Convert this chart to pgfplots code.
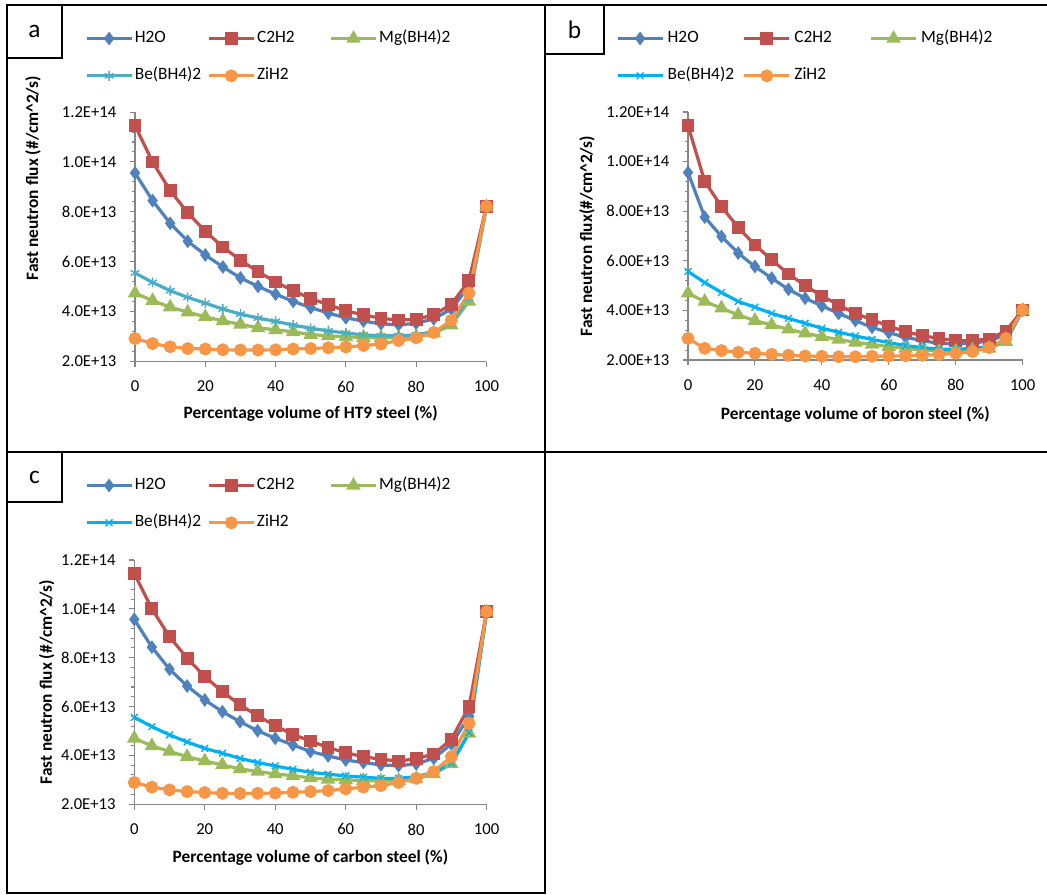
\documentclass[border=0pt]{standalone}
\usepackage{pgfplots}
\usepackage{pgfplotstable}
\usepackage{fontspec}
\setmainfont{Carlito}
\pgfplotsset{compat=1.18}

\definecolor{ch2o}{HTML}{4F81BD}
\definecolor{cc2h2}{HTML}{C0504D}
\definecolor{cmg}{HTML}{9BBB59}
\definecolor{cbea}{HTML}{4BACC6}
\definecolor{cbe}{HTML}{00B0F0}
\definecolor{czih}{HTML}{F79646}
\definecolor{axgray}{HTML}{868686}

% values in units of 1e13 #/cm^2/s
\pgfplotstableread{
x   h2o   c2h2  mg    be    zih2
0   9.56  11.46 4.74  5.55  2.92
5   8.45  10.00 4.44  5.17  2.72
10  7.54  8.85  4.18  4.84  2.59
15  6.82  7.96  3.98  4.57  2.52
20  6.27  7.22  3.79  4.34  2.50
25  5.79  6.59  3.63  4.10  2.47
30  5.35  6.06  3.49  3.90  2.46
35  5.01  5.60  3.35  3.74  2.46
40  4.70  5.19  3.27  3.61  2.47
45  4.41  4.84  3.19  3.46  2.50
50  4.16  4.52  3.08  3.33  2.52
55  3.94  4.28  3.03  3.23  2.55
60  3.75  4.03  2.99  3.14  2.58
65  3.62  3.87  2.96  3.07  2.64
70  3.51  3.73  2.95  3.03  2.70
75  3.47  3.66  2.96  3.03  2.84
80  3.53  3.69  3.00  3.07  2.95
85  3.71  3.87  3.14  3.20  3.16
90  4.10  4.29  3.46  3.51  3.65
95  5.01  5.24  4.41  4.55  4.74
100 8.22  8.22  8.20  8.20  8.22
}\tabA
\pgfplotstableread{
x   h2o   c2h2  mg    be    zih2
0   9.56  11.45 4.69  5.57  2.87
5   7.76  9.20  4.36  5.12  2.47
10  6.98  8.19  4.09  4.72  2.38
15  6.31  7.34  3.82  4.36  2.31
20  5.77  6.64  3.59  4.13  2.27
25  5.30  6.04  3.41  3.88  2.23
30  4.85  5.47  3.24  3.68  2.19
35  4.49  5.00  3.08  3.48  2.16
40  4.18  4.58  2.94  3.28  2.15
45  3.88  4.22  2.83  3.12  2.13
50  3.59  3.88  2.71  2.97  2.13
55  3.32  3.62  2.63  2.83  2.15
60  3.10  3.37  2.54  2.70  2.16
65  2.92  3.14  2.47  2.58  2.17
70  2.78  2.98  2.40  2.50  2.19
75  2.67  2.87  2.36  2.44  2.22
80  2.65  2.78  2.36  2.43  2.27
85  2.67  2.78  2.40  2.47  2.34
90  2.78  2.85  2.47  2.54  2.50
95  3.00  3.17  2.74  2.81  2.87
100 4.00  4.02  4.00  4.00  4.02
}\tabB
\pgfplotstableread{
x   h2o   c2h2  mg    be    zih2
0   9.57  11.45 4.70  5.56  2.89
5   8.43  10.00 4.39  5.18  2.70
10  7.53  8.86  4.16  4.84  2.59
15  6.84  7.98  3.95  4.55  2.52
20  6.27  7.23  3.77  4.29  2.48
25  5.79  6.61  3.61  4.09  2.45
30  5.38  6.07  3.45  3.88  2.44
35  5.01  5.62  3.34  3.71  2.45
40  4.70  5.21  3.24  3.57  2.46
45  4.43  4.86  3.17  3.43  2.49
50  4.16  4.59  3.08  3.31  2.52
55  3.98  4.32  3.02  3.23  2.56
60  3.81  4.11  3.00  3.16  2.63
65  3.71  3.95  2.97  3.11  2.70
70  3.61  3.84  2.95  3.06  2.76
75  3.58  3.77  2.97  3.06  2.89
80  3.65  3.86  3.04  3.13  3.06
85  3.88  4.06  3.24  3.31  3.34
90  4.47  4.66  3.65  3.68  3.95
95  5.59  6.00  4.90  4.93  5.32
100 9.87  9.89  9.87  9.87  9.89
}\tabC

\newcommand{\fs}{\fontsize{12.5}{15}\selectfont}
\newcommand{\fl}{\fontsize{13}{15}\selectfont}

\pgfplotsset{
  panel/.style={
    scale only axis, clip=false,
    xmin=0, xmax=100, ymin=2, ymax=12,
    axis lines=left,
    axis line style={draw=axgray, line width=0.8pt, -},
    xtick={0,20,...,100}, ytick={2,4,...,12},
    minor y tick num=4,
    tick align=outside,
    major tick length=4pt, minor tick length=2.5pt,
    every tick/.style={axgray, line width=0.8pt},
    /pgf/number format/assume math mode=true,
    ticklabel style={font=\fs, text=black},
    xticklabel style={yshift=-7pt},
    yticklabel style={xshift=-6.5pt},
    label style={font=\fl\bfseries},
    legend columns=3,
    legend cell align=left,
    legend image code/.code={\draw[mark repeat=2,mark phase=2] plot coordinates {(0pt,0pt) (16.875pt,0pt) (33.75pt,0pt)};},
    legend style={draw=none, fill=none, anchor=north west, inner sep=0pt, outer sep=0pt,
      row sep=16pt, column sep=0pt,
      nodes={inner sep=0pt, text height=9pt, text depth=3pt, font=\fl}},
  },
  sh2o/.style={ch2o, line width=2.4pt, mark=diamond*, mark size=3.2pt, mark options={solid, fill=ch2o}},
  sc2h2/.style={cc2h2, line width=2.4pt, mark=square*, mark size=3.6pt, mark options={solid, fill=cc2h2}},
  smg/.style={cmg, line width=2.4pt, mark=triangle*, mark size=3.9pt, mark options={solid, fill=cmg}},
  sbea/.style={cbea, line width=2.4pt, mark=asterisk, mark size=3.8pt, mark options={solid, line width=1pt}},
  sbe/.style={cbe, line width=2.4pt, mark=x, mark size=3.6pt, mark options={solid, line width=1pt}},
  szih/.style={czih, line width=2.4pt, mark=*, mark size=3.6pt, mark options={solid, fill=czih}},
}
\newcommand{\la}[1]{\makebox[55.5pt][l]{\hspace{1.2pt}#1}}
\newcommand{\lb}[1]{\makebox[58.9pt][l]{\hspace{2.6pt}#1}}

\begin{document}
\begin{tikzpicture}
\useasboundingbox (0,0) rectangle (785.25pt,-671.25pt);
\begin{scope}[x=0.75pt,y=-0.75pt]
  \draw[line width=1.5pt] (7,5) -- (1047,5);
  \draw[line width=1.5pt] (7,5) -- (7,893) -- (545,893) -- (545,5);
  \draw[line width=1.5pt] (7,452) -- (1047,452);
  \draw[line width=1.5pt] (7,5) rectangle (62,58);
  \draw[line width=1.5pt] (545,5) rectangle (604,54);
  \draw[line width=1.5pt] (7,452) rectangle (62,502);
  \node[font=\fontsize{19}{22}\selectfont] at (34.5,31.5) {a};
  \node[font=\fontsize{19}{22}\selectfont] at (574.5,29.5) {b};
  \node[font=\fontsize{19}{22}\selectfont] at (34.5,477) {c};
\end{scope}

% panel a
\begin{axis}[panel, at={(101.25pt,-271.125pt)}, anchor=south west,
  width=263.6pt, height=187.1pt,
  yticklabels={2.0E+13,4.0E+13,6.0E+13,8.0E+13,1.0E+14,1.2E+14},
  xlabel={Percentage volume of HT9 steel (\%)},
  ylabel={Fast neutron flux (\#/cm\textasciicircum 2/s)},
  xlabel style={at={(axis description cs:0.5,-0.21)}, anchor=center},
  ylabel style={at={(axis description cs:-0.29,0.735)}, anchor=center},
  legend style={at={(axis description cs:-0.1422,1.3267)}},
]
\addplot[sh2o] table[x=x,y=h2o] {\tabA}; \addlegendentry{\la{H2O}}
\addplot[sc2h2] table[x=x,y=c2h2] {\tabA}; \addlegendentry{\la{C2H2}}
\addplot[smg] table[x=x,y=mg] {\tabA}; \addlegendentry{\la{Mg(BH4)2}}
\addplot[sbea] table[x=x,y=be] {\tabA}; \addlegendentry{\la{Be(BH4)2}}
\addplot[szih] table[x=x,y=zih2] {\tabA}; \addlegendentry{\la{ZiH2}}
\end{axis}

% panel b
\begin{axis}[panel, at={(516pt,-270pt)}, anchor=south west,
  width=251pt, height=186pt,
  yticklabels={2.00E+13,4.00E+13,6.00E+13,8.00E+13,1.00E+14,1.20E+14},
  xlabel={Percentage volume of boron steel (\%)},
  ylabel={Fast neutron flux(\#/cm\textasciicircum 2/s)},
  xlabel style={at={(axis description cs:0.5,-0.218)}, anchor=center},
  ylabel style={at={(axis description cs:-0.302,0.5)}, anchor=center},
  legend style={at={(axis description cs:-0.2151,1.3286)}},
]
\addplot[sh2o] table[x=x,y=h2o] {\tabB}; \addlegendentry{\lb{H2O}}
\addplot[sc2h2] table[x=x,y=c2h2] {\tabB}; \addlegendentry{\lb{C2H2}}
\addplot[smg] table[x=x,y=mg] {\tabB}; \addlegendentry{\lb{Mg(BH4)2}}
\addplot[sbe] table[x=x,y=be] {\tabB}; \addlegendentry{\lb{Be(BH4)2}}
\addplot[szih] table[x=x,y=zih2] {\tabB}; \addlegendentry{\lb{ZiH2}}
\end{axis}

% panel c
\begin{axis}[panel, at={(100.7pt,-603.2pt)}, anchor=south west,
  width=264.3pt, height=183.2pt,
  yticklabels={2.0E+13,4.0E+13,6.0E+13,8.0E+13,1.0E+14,1.2E+14},
  xlabel={Percentage volume of carbon steel (\%)},
  ylabel={Fast neutron flux (\#/cm\textasciicircum 2/s)},
  xlabel style={at={(axis description cs:0.5,-0.22)}, anchor=center},
  ylabel style={at={(axis description cs:-0.248,0.5)}, anchor=center},
  legend style={at={(axis description cs:-0.1399,1.3377)}},
]
\addplot[sh2o] table[x=x,y=h2o] {\tabC}; \addlegendentry{\la{H2O}}
\addplot[sc2h2] table[x=x,y=c2h2] {\tabC}; \addlegendentry{\la{C2H2}}
\addplot[smg] table[x=x,y=mg] {\tabC}; \addlegendentry{\la{Mg(BH4)2}}
\addplot[sbe] table[x=x,y=be] {\tabC}; \addlegendentry{\la{Be(BH4)2}}
\addplot[szih] table[x=x,y=zih2] {\tabC}; \addlegendentry{\la{ZiH2}}
\end{axis}
\end{tikzpicture}
\end{document}
